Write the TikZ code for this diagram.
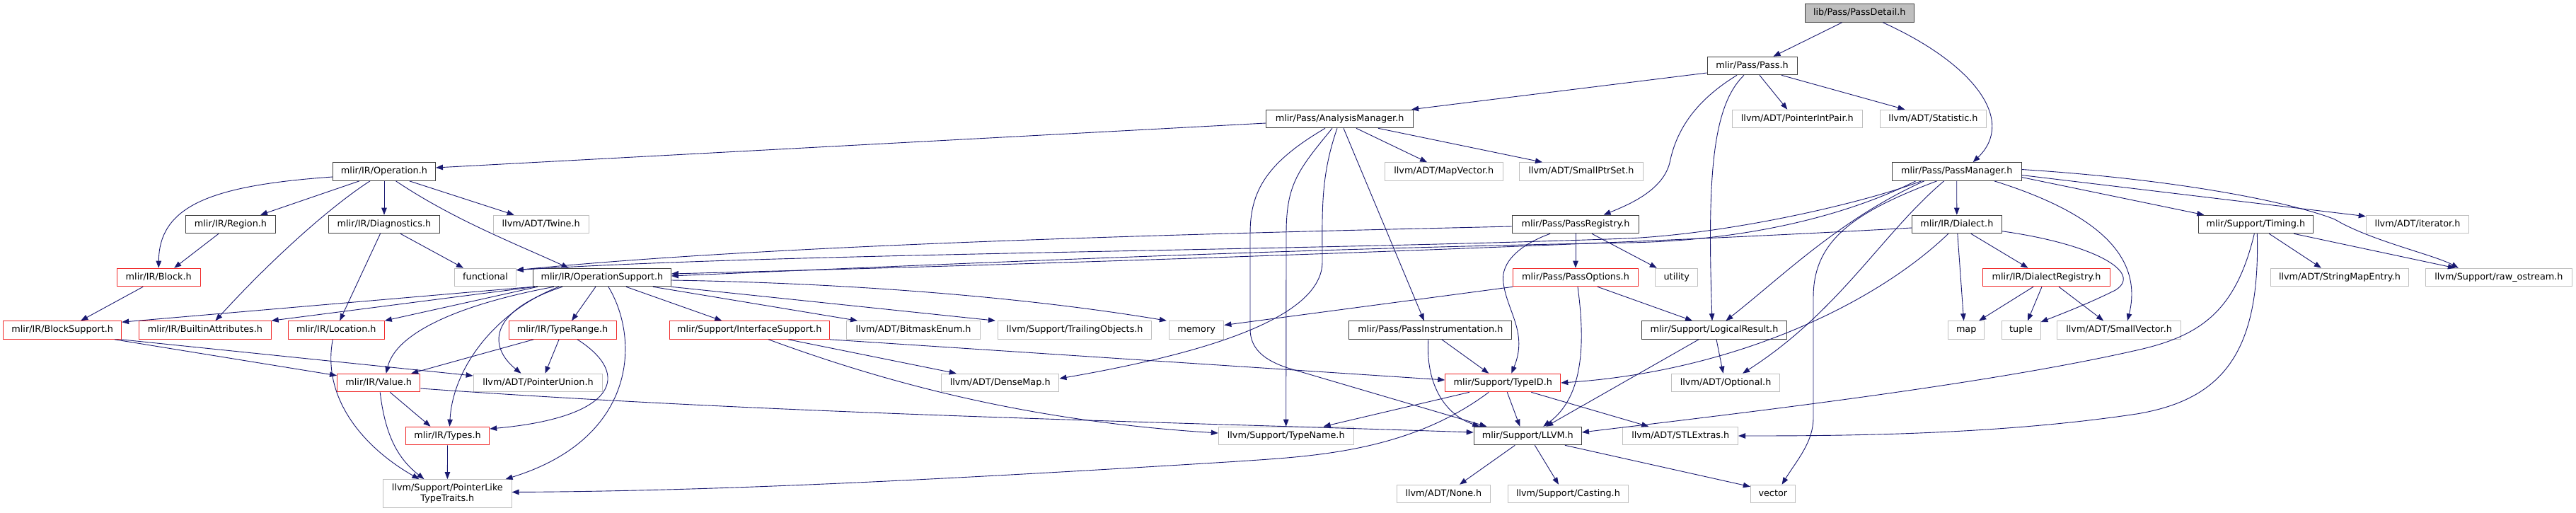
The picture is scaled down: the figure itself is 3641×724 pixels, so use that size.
\documentclass[tikz,border=0pt]{standalone}
\usepackage{fontspec}
\setmainfont{DejaVu Sans}
\usepackage{tikz}
\usetikzlibrary{arrows.meta}
\usepackage{xcolor}
\definecolor{edgeBlue}{RGB}{25, 25, 112}
\definecolor{docFrame}{RGB}{64, 64, 64}
\definecolor{truncFrame}{RGB}{240, 40, 40}
\definecolor{extFrame}{RGB}{191, 191, 191}
\definecolor{rootFill}{RGB}{191, 191, 191}

\begin{document}
\begin{tikzpicture}[x=1pt, y=-1pt, >={Triangle[length=10pt, width=7.5pt]},
  font=\fontsize{12.8}{15}\selectfont,
  nodebox/.style={rectangle, line width=1pt, inner sep=0pt, minimum height=25.6pt,
    minimum width=#1pt, text height=9.6pt, text depth=2.8pt},
  hdr/.style={nodebox=#1, draw=docFrame},
  trunc/.style={nodebox=#1, draw=truncFrame},
  ext/.style={nodebox=#1, draw=extFrame},
  root/.style={hdr=#1, fill=rootFill},
  dep/.style={->, edgeBlue, line width=0.9pt}]
  \useasboundingbox (0,0) rectangle (3641,724);

  % headers, row by row
  \node[root=154.6] (passdetail) at (2628.3,18.5) {lib/Pass/PassDetail.h};
  \node[hdr=127] (pass) at (2476.5,93) {mlir/Pass/Pass.h};

  \node[hdr=208] (analysis) at (1893.6,168) {mlir/Pass/AnalysisManager.h};
  \node[ext=184.3] (ptrintpair) at (2540.3,168) {llvm/ADT/PointerIntPair.h};
  \node[ext=150.7] (statistic) at (2732.4,168) {llvm/ADT/Statistic.h};

  \node[hdr=145] (operation) at (543,242.5) {mlir/IR/Operation.h};
  \node[ext=166.8] (mapvector) at (2040.8,242.5) {llvm/ADT/MapVector.h};
  \node[ext=175] (smallptrset) at (2235,242.5) {llvm/ADT/SmallPtrSet.h};
  \node[hdr=182.7] (passmgr) at (2765.7,242.5) {mlir/Pass/PassManager.h};

  \node[hdr=126.5] (region) at (326,317) {mlir/IR/Region.h};
  \node[hdr=157.5] (diagnostics) at (543,317) {mlir/IR/Diagnostics.h};
  \node[ext=134.8] (twine) at (764.7,317) {llvm/ADT/Twine.h};
  \node[hdr=179.5] (passregistry) at (2227,317) {mlir/Pass/PassRegistry.h};
  \node[hdr=126.5] (dialect) at (2765.8,317) {mlir/IR/Dialect.h};
  \node[hdr=162.5] (timing) at (3188.3,317) {mlir/Support/Timing.h};
  \node[ext=145.5] (iterator) at (3417,317) {llvm/ADT/iterator.h};

  \node[trunc=117.8] (block) at (224.2,392) {mlir/IR/Block.h};
  \node[ext=86.6] (functional) at (686,392) {functional};
  \node[hdr=195] (opsupport) at (850.9,392) {mlir/IR/OperationSupport.h};
  \node[trunc=176.3] (passoptions) at (2227,392) {mlir/Pass/PassOptions.h};
  \node[ext=60.1] (utility) at (2369.8,392) {utility};
  \node[trunc=179.1] (dialectreg) at (2892.5,392) {mlir/IR/DialectRegistry.h};
  \node[ext=195.7] (stringmapentry) at (3306.9,392) {llvm/ADT/StringMapEntry.h};
  \node[ext=206.8] (rawostream) at (3531.9,392) {llvm/Support/raw\_ostream.h};

  \node[trunc=166.9] (blocksupport) at (88.2,466.5) {mlir/IR/BlockSupport.h};
  \node[trunc=186.6] (builtinattr) at (289.9,466.5) {mlir/IR/BuiltinAttributes.h};
  \node[trunc=136] (location) at (475.3,466.5) {mlir/IR/Location.h};
  \node[trunc=152.2] (typerange) at (795.1,466.5) {mlir/IR/TypeRange.h};
  \node[trunc=226.6] (interfacesupport) at (1059.3,466.5) {mlir/Support/InterfaceSupport.h};
  \node[ext=189.5] (bitmaskenum) at (1291,466.5) {llvm/ADT/BitmaskEnum.h};
  \node[ext=217.4] (trailingobjects) at (1519.1,466.5) {llvm/Support/TrailingObjects.h};
  \node[ext=77.5] (memory) at (1691.1,466.5) {memory};
  \node[hdr=230] (passinstr) at (2021.8,466.5) {mlir/Pass/PassInstrumentation.h};
  \node[hdr=205.3] (logicalresult) at (2423,466.5) {mlir/Support/LogicalResult.h};
  \node[ext=50.6] (map) at (2779.2,466.5) {map};
  \node[ext=55] (tuple) at (2856.5,466.5) {tuple};
  \node[ext=174.8] (smallvector) at (2995.1,466.5) {llvm/ADT/SmallVector.h};

  \node[trunc=117.4] (value) at (535.2,541) {mlir/IR/Value.h};
  \node[ext=182.7] (pointerunion) at (760.5,541) {llvm/ADT/PointerUnion.h};
  \node[ext=166.5] (densemap) at (1413.7,541) {llvm/ADT/DenseMap.h};
  \node[trunc=163] (typeid) at (2124.3,541) {mlir/Support/TypeID.h};
  \node[ext=153.6] (optional) at (2439.1,541) {llvm/ADT/Optional.h};

  \node[trunc=118.4] (types) at (632.5,616) {mlir/IR/Types.h};
  \node[ext=190.8] (typename) at (1817.7,616) {llvm/Support/TypeName.h};
  \node[hdr=152.3] (llvm) at (2159.3,616) {mlir/Support/LLVM.h};
  \node[ext=162.6] (stlextras) at (2375.2,616) {llvm/ADT/STLExtras.h};

  \node[rectangle, draw=extFrame, line width=1pt, inner sep=0pt, minimum width=181.3pt,
    minimum height=39.7pt, align=center] (pointerlike) at (632.4,697.5)
    {llvm/Support/PointerLike\\TypeTraits.h};
  \node[ext=132] (none) at (2040.4,698) {llvm/ADT/None.h};
  \node[ext=170.8] (casting) at (2216.4,698) {llvm/Support/Casting.h};
  \node[ext=62.9] (vector) at (2505.8,698) {vector};

  % PassDetail.h and Pass.h
  \draw[dep] ([xshift=-24.7pt]passdetail.south) -- ([xshift=30pt]pass.north);
  \draw[dep] ([xshift=33pt]passdetail.south) .. controls (2790,90) and (2850,170) .. ([xshift=23pt]passmgr.north);
  \draw[dep] ([yshift=-10pt]pass.west) -- ([xshift=-3pt]analysis.north east);
  \draw[dep] ([xshift=10.5pt]pass.south) -- ([xshift=-14pt]ptrintpair.north);
  \draw[dep] ([xshift=41.5pt]pass.south) -- ([xshift=-40pt]statistic.north);
  \draw[dep] ([xshift=-21.5pt]pass.south) .. controls (2400,140) and (2370,180) .. (2360,230)
    .. controls (2350,270) and (2300,290) .. ([xshift=39.6pt]passregistry.north);
  \draw[dep] ([xshift=-11.5pt]pass.south) .. controls (2420,150) and (2413,250) .. ([xshift=-3pt]logicalresult.north);

  % AnalysisManager.h
  \draw[dep] ([yshift=-6pt]analysis.west) -- ([yshift=5.5pt]operation.east);
  \draw[dep] ([xshift=23.4pt]analysis.south) -- ([xshift=-23.8pt]mapvector.north);
  \draw[dep] ([xshift=54.4pt]analysis.south) -- ([xshift=-55pt]smallptrset.north);
  \draw[dep] ([xshift=5.4pt]analysis.south) -- ([xshift=-9pt]passinstr.north);
  \draw[dep] ([xshift=-3.6pt]analysis.south) .. controls (1866,250) and (1869,300) .. (1869,370)
    .. controls (1869,450) and (1700,500) .. ([yshift=6pt]densemap.east);
  \draw[dep] ([xshift=-10.6pt]analysis.south) .. controls (1835,240) and (1818,260) .. (1818,330) -- (typename.north);
  \draw[dep] ([xshift=-20.6pt]analysis.south) .. controls (1790,230) and (1767,270) .. (1767,330) -- (1767,465)
    .. controls (1767,495) and (1790,510) .. (1820,520) -- ([xshift=-58pt]llvm.north);

  % Operation.h and its children
  \draw[dep] ([yshift=-7.5pt]operation.west) .. controls (300,262) and (225,290) .. (block.north);
  \draw[dep] ([xshift=-35pt]operation.south) -- ([xshift=42pt]region.north);
  \draw[dep] ([xshift=-20pt]operation.south) .. controls (470,290) and (390,360) .. ([xshift=14.6pt]builtinattr.north);
  \draw[dep] (operation.south) -- (diagnostics.north);
  \draw[dep] ([xshift=16.5pt]operation.south) .. controls (640,310) and (730,345) .. ([xshift=-47.3pt]opsupport.north);
  \draw[dep] ([xshift=35.6pt]operation.south) -- ([xshift=-38pt]twine.north);
  \draw[dep] ([xshift=-17pt]region.south) -- ([xshift=22pt]block.north);
  \draw[dep] ([xshift=-5.5pt]diagnostics.south) -- ([xshift=5pt]location.north);
  \draw[dep] ([xshift=23pt]diagnostics.south) -- ([xshift=-31pt]functional.north);
  \draw[dep] ([xshift=-22pt]block.south) -- ([xshift=26pt]blocksupport.north);
  \draw[dep] ([xshift=-10pt]blocksupport.south east) -- ([yshift=-3pt]value.north west);
  \draw[dep] ([xshift=-1pt]blocksupport.south east) -- ([yshift=10pt]pointerunion.west);
  \draw[dep] ([xshift=-5pt]location.south) .. controls (455,560) and (510,630) .. ([xshift=-40pt]pointerlike.north);
  \draw[dep] ([xshift=16pt]value.south) -- ([xshift=-24pt]types.north);
  \draw[dep] ([xshift=2pt]value.south) .. controls (545,620) and (565,650) .. ([xshift=-33pt]pointerlike.north);
  \draw[dep] ([yshift=-8pt]value.east) .. controls (1100,585) and (1600,595) .. ([yshift=5pt]llvm.west);
  \draw[dep] (types.south) -- (pointerlike.north);
  \draw[dep] ([xshift=-41pt]typerange.south) -- ([xshift=46pt]value.north);
  \draw[dep] ([xshift=-5pt]typerange.south) -- ([xshift=10pt]pointerunion.north);
  \draw[dep] ([xshift=21pt]typerange.south) .. controls (895,530) and (870,590) .. ([yshift=10pt]types.east);

  % OperationSupport.h
  \draw[dep] (opsupport.south west) -- ([yshift=-2pt]blocksupport.north east);
  \draw[dep] ([xshift=3pt]opsupport.south west) -- (builtinattr.north east);
  \draw[dep] ([xshift=7pt]opsupport.south west) -- (location.north east);
  \draw[dep] ([xshift=-68pt]opsupport.south) .. controls (650,430) and (560,470) .. ([xshift=10.5pt]value.north);
  \draw[dep] ([xshift=-61pt]opsupport.south) .. controls (700,440) and (640,520) .. ([xshift=3pt]types.north);
  \draw[dep] ([xshift=-56pt]opsupport.south) .. controls (690,440) and (690,490) .. ([xshift=-24pt]pointerunion.north);
  \draw[dep] ([xshift=-9pt]opsupport.south) -- ([xshift=13pt]typerange.north);
  \draw[dep] ([xshift=9pt]opsupport.south) .. controls (905,480) and (900,620) .. ([xshift=-9pt]pointerlike.north east);
  \draw[dep] ([xshift=34pt]opsupport.south) -- ([xshift=-39pt]interfacesupport.north);
  \draw[dep] ([xshift=72pt]opsupport.south) -- ([xshift=-79pt]bitmaskenum.north);
  \draw[dep] (opsupport.south east) -- ([xshift=-3pt]trailingobjects.north west);
  \draw[dep] ([yshift=-4pt]opsupport.east) .. controls (1200,400) and (1450,420) .. ([xshift=-3pt]memory.north west);
  \draw[dep] ([xshift=55pt]interfacesupport.south) -- ([xshift=-62pt]densemap.north);
  \draw[dep] (interfacesupport.south east) -- ([yshift=4pt]typeid.west);
  \draw[dep] ([xshift=27pt]interfacesupport.south) .. controls (1250,540) and (1450,595) .. ([yshift=4pt]typename.west);

  % PassRegistry.h, PassOptions.h, PassInstrumentation.h
  \draw[dep] ([yshift=-3pt]passregistry.west) .. controls (1700,330) and (1100,345) .. ([yshift=-3pt]functional.north east);
  \draw[dep] (passregistry.south) -- (passoptions.north);
  \draw[dep] ([xshift=23pt]passregistry.south) -- ([xshift=-28pt]utility.north);
  \draw[dep] ([xshift=-36pt]passregistry.south) .. controls (2150,345) and (2120,370) .. (2125,400)
    .. controls (2130,440) and (2160,470) .. ([xshift=12pt]typeid.north);
  \draw[dep] (passoptions.south west) -- ([yshift=7pt]memory.east);
  \draw[dep] ([xshift=3pt]passoptions.south) .. controls (2240,480) and (2240,560) .. ([xshift=22pt]llvm.north);
  \draw[dep] ([xshift=31pt]passoptions.south) -- ([xshift=-31pt]logicalresult.north);
  \draw[dep] ([xshift=16pt]passinstr.south) -- ([xshift=-20pt]typeid.north);
  \draw[dep] ([xshift=-3pt]passinstr.south) .. controls (2015,540) and (2040,585) .. ([xshift=-68pt]llvm.north);

  % TypeID.h, LogicalResult.h, LLVM.h
  \draw[dep] ([xshift=-47.5pt]typeid.south) -- ([xshift=53pt]typename.north);
  \draw[dep] ([xshift=6pt]typeid.south) -- ([xshift=-11pt]llvm.north);
  \draw[dep] ([xshift=40pt]typeid.south) -- ([xshift=-45pt]stlextras.north);
  \draw[dep] ([xshift=-20pt]typeid.south) .. controls (1990,640) and (1850,645) .. (1750,652)
    .. controls (1300,680) and (1000,694) .. ([yshift=2pt]pointerlike.east);
  \draw[dep] ([xshift=-22pt]logicalresult.south) -- ([xshift=26pt]llvm.north);
  \draw[dep] ([xshift=3pt]logicalresult.south) -- ([xshift=-3.5pt]optional.north);
  \draw[dep] ([xshift=-18pt]llvm.south) -- ([xshift=22.6pt]none.north);
  \draw[dep] ([xshift=10pt]llvm.south) -- ([xshift=-13.4pt]casting.north);
  \draw[dep] ([xshift=-24pt]llvm.south east) -- ([yshift=-3pt]vector.north west);

  % PassManager.h
  \draw[dep] (passmgr.south) -- (dialect.north);
  \draw[dep] ([xshift=-50pt]passmgr.south) .. controls (2640,285) and (2450,330) .. (2300,337)
    .. controls (1800,355) and (1100,358) .. ([yshift=-3pt]functional.north east);
  \draw[dep] ([xshift=-58pt]passmgr.south) .. controls (2620,300) and (2480,340) .. (2300,343)
    .. controls (1800,352) and (1300,375) .. ([yshift=2pt]opsupport.east);
  \draw[dep] ([xshift=-46pt]passmgr.south) .. controls (2600,310) and (2520,390) .. ([xshift=16.5pt]logicalresult.north);
  \draw[dep] ([xshift=-28pt]passmgr.south) .. controls (2620,300) and (2563,340) .. (2563,420) -- (2563,590)
    .. controls (2563,625) and (2540,650) .. ([xshift=12.8pt]vector.north);
  \draw[dep] ([xshift=-18pt]passmgr.south) .. controls (2660,330) and (2600,440) .. ([xshift=24pt]optional.north);
  \draw[dep] ([yshift=-8pt]passmgr.east) -- ([xshift=-73pt]timing.north);
  \draw[dep] ([yshift=-5pt]passmgr.east) -- ([yshift=-2pt]iterator.north west);
  \draw[dep] ([yshift=3pt]passmgr.east) .. controls (3100,255) and (3250,290) .. (3300,310)
    .. controls (3350,340) and (3440,360) .. ([xshift=-57pt]rawostream.north);
  \draw[dep] ([xshift=53pt]passmgr.south) .. controls (2960,300) and (3030,360) .. ([xshift=12pt]smallvector.north);

  % Dialect.h and DialectRegistry.h
  \draw[dep] ([yshift=-5pt]dialect.west) .. controls (2300,345) and (1600,370) .. ([yshift=5pt]opsupport.east);
  \draw[dep] ([xshift=1pt]dialect.south) -- ([xshift=-3.6pt]map.north);
  \draw[dep] ([xshift=20pt]dialect.south) -- ([xshift=-26pt]dialectreg.north);
  \draw[dep] ([xshift=-12pt]dialect.south) .. controls (2650,430) and (2450,525) .. (typeid.east);
  \draw[dep] ([yshift=-9.7pt]dialect.east) .. controls (2960,345) and (3030,385) .. (2990,410)
    .. controls (2950,430) and (2910,445) .. ([yshift=-2pt]tuple.north east);
  \draw[dep] ([xshift=-18.5pt]dialectreg.south) -- ([xshift=18pt]map.north);
  \draw[dep] ([xshift=-6.5pt]dialectreg.south) -- ([xshift=9.5pt]tuple.north);
  \draw[dep] ([xshift=17.5pt]dialectreg.south) -- ([xshift=-22pt]smallvector.north);

  % Timing.h
  \draw[dep] ([xshift=19pt]timing.south) -- ([xshift=-26pt]stringmapentry.north);
  \draw[dep] ([xshift=54pt]timing.south) -- ([xshift=-62pt]rawostream.north);
  \draw[dep] ([xshift=-2pt]timing.south) .. controls (3160,440) and (3110,475) .. (3020,495)
    .. controls (2800,545) and (2450,585) .. ([yshift=5pt]llvm.east);
  \draw[dep] ([xshift=2pt]timing.south) .. controls (3195,500) and (3140,565) .. (3020,585)
    .. controls (2820,615) and (2600,616) .. (stlextras.east);
\end{tikzpicture}
\end{document}
